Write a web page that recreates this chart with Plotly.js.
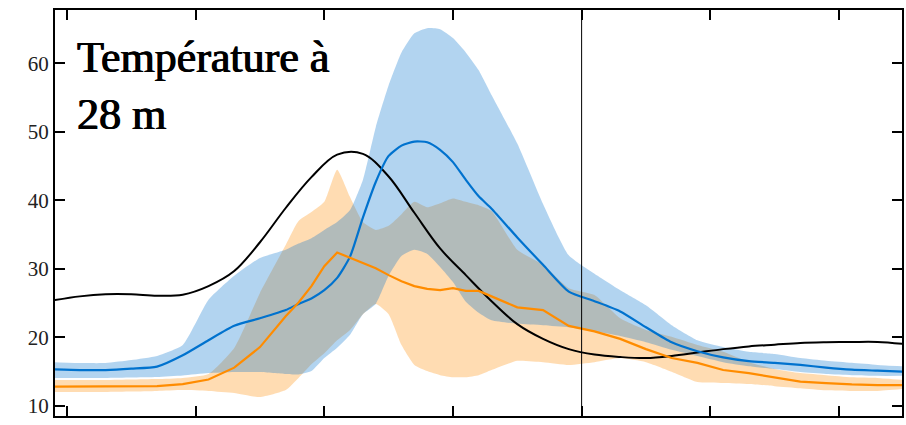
<!DOCTYPE html>
<html>
<head>
<meta charset="utf-8">
<script src="https://cdn.plot.ly/plotly-3.0.1.min.js"></script>
<style>html,body{margin:0;padding:0;background:#fff;}#chart{width:906px;height:425px;}</style>
</head>
<body>
<div id="chart"></div>
<script>
// time axis (tick spacing = 1 unit, unlabeled in the original)
const t = [-0.1, 0.1, 0.3, 0.5, 0.7, 0.9, 1.1, 1.3, 1.5, 1.7,
           1.8, 1.9, 2.0, 2.1, 2.2, 2.3, 2.4, 2.5, 2.6, 2.7, 2.8, 2.9, 3.0, 3.1, 3.2, 3.3,
           3.5, 3.7, 3.9, 4.1, 4.3, 4.5, 4.7, 4.9, 5.1, 5.3, 5.5, 5.7, 5.9, 6.1, 6.3, 6.5];

// black reference curve (own, evenly spaced time axis)
const blackT = [-0.1, 0.1, 0.3, 0.5, 0.7, 0.9, 1.1, 1.3, 1.5, 1.7, 1.9, 2.1, 2.3, 2.5, 2.7, 2.9, 3.1,
                3.3, 3.5, 3.7, 3.9, 4.1, 4.3, 4.5, 4.7, 4.9, 5.1, 5.3, 5.5, 5.7, 5.9, 6.1, 6.3, 6.5];
const blackLine = [25.45, 26.0, 26.3, 26.3, 26.1, 26.25, 27.5, 29.7, 33.9, 38.9, 43.4, 46.7, 46.8, 43.5, 38.2, 33.0, 29.1,
                   25.3, 21.95, 19.8, 18.3, 17.5, 17.15, 17.0, 17.3, 17.8, 18.3, 18.7, 18.95, 19.2, 19.3, 19.34, 19.34, 19.05];

// blue series: mean and envelope
const blueMean = [15.35, 15.25, 15.25, 15.45, 15.75, 17.4, 19.6, 21.7, 22.8, 24.0,
                  24.9, 25.7, 26.9, 28.7, 31.8, 37.5, 42.7, 46.5, 48.0, 48.6, 48.5, 47.4, 45.6, 43.0, 40.6, 38.8,
                  34.6, 30.6, 26.7, 25.3, 23.8, 21.5, 19.3, 18.0, 17.1, 16.55, 16.3, 16.0, 15.6, 15.3, 15.15, 15.0];
const blueLow  = [14.1, 14.1, 14.1, 14.16, 14.23, 14.45, 14.8, 14.96, 14.96, 14.67,
                  14.6, 15.1, 17.0, 18.5, 20.4, 23.4, 24.9, 29.0, 31.9, 32.8, 32.2, 30.3, 28.1, 25.2, 23.6, 22.5,
                  22.0, 21.8, 21.5, 20.9, 20.2, 19.3, 18.2, 17.3, 16.4, 15.8, 15.4, 14.96, 14.67, 14.5, 14.4, 14.4];
const blueHigh = [16.4, 16.27, 16.27, 16.7, 17.3, 18.9, 25.5, 29.0, 31.6, 32.8,
                  33.7, 34.5, 35.7, 36.85, 38.6, 43.0, 50.7, 56.8, 61.6, 64.4, 65.15, 65.0, 63.7, 61.6, 59.0, 55.4,
                  48.3, 39.5, 32.0, 29.3, 26.9, 24.7, 21.8, 19.6, 18.6, 17.9, 17.6, 17.0, 16.6, 16.3, 16.0, 15.8];

// orange series: mean and envelope
const orangeMean = [12.84, 12.84, 12.84, 12.85, 12.9, 13.2, 13.87, 15.6, 18.6, 23.1,
                    25.1, 27.5, 30.4, 32.4, 31.6, 30.9, 30.1, 29.1, 28.2, 27.5, 27.1, 26.9, 27.2, 26.8, 26.8, 26.0,
                    24.4, 24.0, 21.7, 20.9, 19.8, 18.3, 17.0, 16.3, 15.25, 14.8, 14.2, 13.55, 13.35, 13.15, 13.06, 13.06];
const orangeLow  = [12.04, 12.04, 12.04, 12.1, 12.2, 12.33, 12.2, 11.9, 11.3, 12.33,
                    14.1, 16.1, 17.7, 19.6, 21.1, 23.4, 24.9, 23.4, 18.9, 16.0, 15.1, 14.5, 14.2, 14.2, 14.5, 15.25,
                    16.6, 16.4, 16.0, 16.4, 17.0, 16.4, 15.0, 13.5, 13.36, 13.2, 12.9, 12.6, 12.3, 12.2, 12.2, 12.5];
const orangeHigh = [13.8, 13.8, 13.8, 13.87, 13.94, 14.1, 14.67, 18.46, 26.5, 33.5,
                    37.0, 38.3, 39.8, 44.5, 40.5, 36.85, 35.7, 36.3, 38.0, 39.8, 39.0, 39.6, 40.3, 39.8, 39.3, 38.45,
                    32.8, 30.6, 27.2, 26.2, 22.8, 21.1, 20.1, 18.9, 17.9, 16.4, 15.4, 14.8, 14.5, 14.2, 14.1, 13.8];

// small orange marker at the right edge
const edgeMarkX = [6.512];
const edgeMarkY = [57.6];

const yTicks = [10, 20, 30, 40, 50, 60];
const xTicks = [0, 1, 2, 3, 4, 5, 6];
const splitX = 4;

const BLUE = 'rgb(0,114,206)';
const ORANGE = 'rgb(255,140,0)';
const BLUE_FILL = 'rgba(0,114,206,0.30)';
const ORANGE_FILL = 'rgba(255,140,0,0.30)';
const bandLine = {width: 0, shape: 'spline', smoothing: 0.5};

const traces = [
  {x: t, y: orangeLow, type: 'scatter', mode: 'lines', line: bandLine, hoverinfo: 'skip', showlegend: false},
  {x: t, y: orangeHigh, type: 'scatter', mode: 'lines', line: bandLine, fill: 'tonexty', fillcolor: ORANGE_FILL, hoverinfo: 'skip', showlegend: false},
  {x: t, y: blueLow, type: 'scatter', mode: 'lines', line: bandLine, hoverinfo: 'skip', showlegend: false},
  {x: t, y: blueHigh, type: 'scatter', mode: 'lines', line: bandLine, fill: 'tonexty', fillcolor: BLUE_FILL, hoverinfo: 'skip', showlegend: false},
  {x: blackT, y: blackLine, type: 'scatter', mode: 'lines', line: {color: '#000', width: 2, shape: 'spline', smoothing: 1.0}, showlegend: false},
  {x: t, y: blueMean, type: 'scatter', mode: 'lines', line: {color: BLUE, width: 2.2, shape: 'spline', smoothing: 0.6}, showlegend: false},
  {x: t, y: orangeMean, type: 'scatter', mode: 'lines', line: {color: ORANGE, width: 2.2}, showlegend: false},
  {x: edgeMarkX, y: edgeMarkY, type: 'scatter', mode: 'markers', marker: {symbol: 'triangle-down', size: 7, color: ORANGE}, cliponaxis: false, showlegend: false}
];

const axisCommon = {
  showline: true, linecolor: '#000', linewidth: 2, mirror: 'ticks',
  ticks: 'inside', ticklen: 10, tickwidth: 2, tickcolor: '#000',
  showgrid: false, zeroline: false, layer: 'below traces'
};

const layout = {
  width: 906, height: 425,
  margin: {l: 55, r: 4, t: 10, b: 9},
  paper_bgcolor: '#fff', plot_bgcolor: '#fff',
  showlegend: false,
  xaxis: Object.assign({}, axisCommon, {range: [-0.093, 6.49], tickvals: xTicks, showticklabels: false}),
  yaxis: Object.assign({}, axisCommon, {range: [8.54, 67.8], tickvals: yTicks, ticktext: yTicks.map(String),
    tickfont: {family: 'Liberation Serif, serif', size: 21, color: '#222'}}),
  shapes: [{type: 'line', xref: 'x', yref: 'paper', x0: splitX, x1: splitX, y0: 0, y1: 1, line: {color: '#000', width: 1}}],
  annotations: [{
    xref: 'paper', yref: 'paper', x: 0.024, y: 0.948, xanchor: 'left', yanchor: 'top', align: 'left',
    showarrow: false, text: 'Température à<br>28 m',
    font: {family: 'Liberation Serif, serif', size: 44, color: '#000', shadow: '0.8px 0 0 #000, -0.4px 0 0 #000'}
  }]
};

Plotly.newPlot('chart', traces, layout, {displayModeBar: false, staticPlot: true});
</script>
</body>
</html>
